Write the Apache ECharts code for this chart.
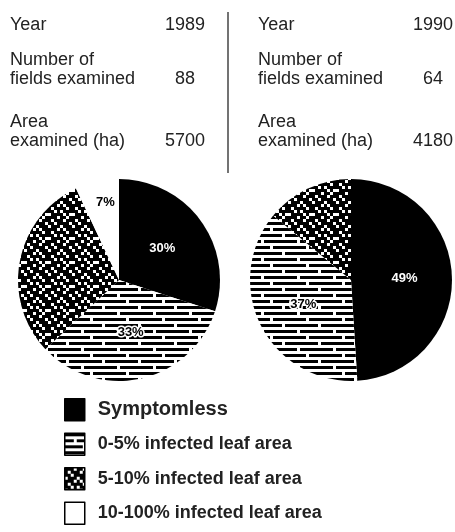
<!DOCTYPE html>
<html>
<head>
<meta charset="utf-8">
<script src="https://cdn.jsdelivr.net/npm/echarts/dist/echarts.min.js"></script>
<style>
  html, body { margin: 0; padding: 0; background: #fff; }
  #chart { width: 455px; height: 532px; }
</style>
</head>
<body>
<div id="chart"></div>
<script>
// survey figures per year
var years = [1989, 1990];
var fieldsExamined = [88, 64];
var areaExamined = [5700, 4180];

// disease classes, in clockwise order from 12 o'clock
var categories = ['Symptomless', '0-5% infected leaf area', '5-10% infected leaf area', '10-100% infected leaf area'];
var share1989 = [30, 33, 30, 7];
var share1990 = [49, 37, 14, 0];

// little bitmap -> canvas pattern (1 = black)
function makePattern(rows, cell) {
    var c = document.createElement('canvas');
    c.width = rows[0].length * cell;
    c.height = rows.length * cell;
    var ctx = c.getContext('2d');
    ctx.fillStyle = '#fff';
    ctx.fillRect(0, 0, c.width, c.height);
    ctx.fillStyle = '#000';
    rows.forEach(function (r, y) {
        for (var x = 0; x < r.length; x++) {
            if (r[x] === '1') ctx.fillRect(x * cell, y * cell, cell, cell);
        }
    });
    return { image: c, repeat: 'repeat' };
}

var stripes = makePattern([
    '111111111101',
    '000000000000',
    '111011111111',
    '000000000000',
    '111111011111',
    '000000000000'
], 3);

var speckle = makePattern([
    '11101101',
    '10111011',
    '11011110',
    '01110111',
    '11101011',
    '10111101',
    '11010111',
    '01111010'
], 3);

var fills = ['#000', stripes, speckle, '#fff'];
var labelFont = { fontFamily: 'Liberation Sans', fontWeight: 'bold', fontSize: 13 };
var labels = [
    Object.assign({ show: true, position: 'inside', color: '#fff' }, labelFont),
    Object.assign({ show: true, position: 'inside', color: '#000', textBorderColor: '#fff', textBorderWidth: 3 }, labelFont),
    { show: false },
    Object.assign({ show: true, position: 'inside', color: '#000', offset: [-2, -25] }, labelFont)
];

function pieData(values) {
    var out = [];
    values.forEach(function (v, i) {
        if (v <= 0) return;
        out.push({
            name: categories[i],
            value: v,
            itemStyle: { color: fills[i] },
            label: labels[i]
        });
    });
    return out;
}

var myChart = echarts.init(document.getElementById('chart'));

function t(x, y, s, align) {
    return { type: 'text', x: x, y: y, silent: true,
        style: { text: String(s), align: align || 'left', verticalAlign: 'middle',
            font: '18px "Liberation Sans"', fill: '#222' } };
}

var header = [];
[10, 258].forEach(function (lx, k) {
    var vx = k === 0 ? 185 : 433;
    header.push(t(lx, 25, 'Year'));
    header.push(t(vx, 25, years[k], 'center'));
    header.push(t(lx, 60, 'Number of'));
    header.push(t(lx, 79, 'fields examined'));
    header.push(t(vx, 79, fieldsExamined[k], 'center'));
    header.push(t(lx, 122, 'Area'));
    header.push(t(lx, 141, 'examined (ha)'));
    header.push(t(vx, 141, areaExamined[k], 'center'));
});
header.push({ type: 'line', silent: true, shape: { x1: 228, y1: 12, x2: 228, y2: 173 },
    style: { stroke: '#444', lineWidth: 1.5 } });

var option = {
    backgroundColor: '#fff',
    animation: false,
    graphic: header,
    legend: {
        orient: 'vertical',
        left: 59,
        top: 393,
        height: 139,
        itemWidth: 20,
        itemHeight: 22,
        itemGap: 11,
        icon: 'rect',
        selectedMode: false,
        itemStyle: { borderColor: '#000', borderWidth: 1.5 },
        textStyle: { fontFamily: 'Liberation Sans', fontWeight: 'bold', fontSize: 18, color: '#222', padding: [0, 0, 0, 8] },
        data: categories.map(function (c, i) {
            return i === 0 ? { name: c, textStyle: { fontSize: 20 } } : { name: c };
        })
    },
    series: [
        {
            name: String(years[0]),
            type: 'pie',
            center: [119, 280],
            radius: 101,
            startAngle: 90,
            clockwise: true,
            labelLine: { show: false },
            emphasis: { disabled: true },
            itemStyle: { borderWidth: 0 },
            label: { formatter: '{c}%' },
            data: pieData(share1989)
        },
        {
            name: String(years[1]),
            type: 'pie',
            center: [351, 280],
            radius: 101,
            startAngle: 90,
            clockwise: true,
            labelLine: { show: false },
            emphasis: { disabled: true },
            itemStyle: { borderWidth: 0 },
            label: { formatter: '{c}%' },
            data: pieData(share1990)
        }
    ]
};

myChart.setOption(option);
</script>
</body>
</html>
